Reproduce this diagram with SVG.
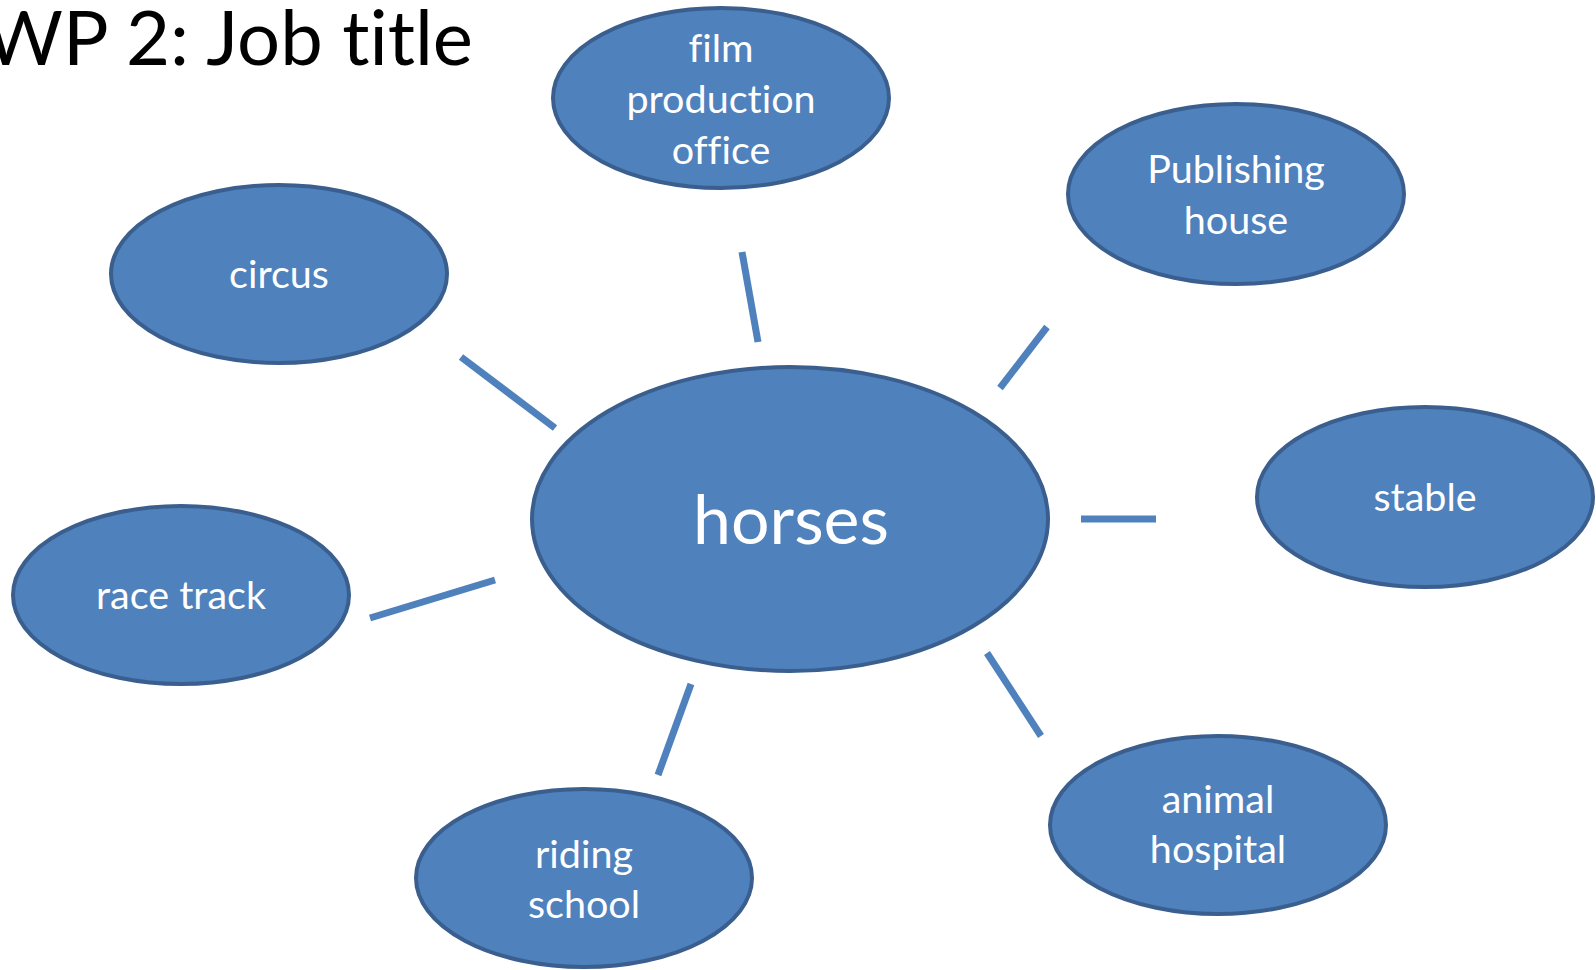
<svg xmlns="http://www.w3.org/2000/svg" width="1596" height="970" viewBox="0 0 1596 970">
<style>
text{font-variant-ligatures:none;font-feature-settings:"liga" 0,"clig" 0}
.node ellipse{fill:#4F81BD;stroke:#3A5F8F;stroke-width:4}
.node text{fill:#FFFFFF;font-family:Lato,"Open Sans","Liberation Sans",sans-serif;font-size:39.5px;text-anchor:middle}
#connectors line{stroke:#4F81BD;stroke-width:7}
.title{font-family:Lato,"Open Sans","Liberation Sans",sans-serif;font-size:76px;fill:#000000;text-anchor:end}
</style>
<rect width="1596" height="970" fill="#FFFFFF"/>
<text class="title" x="473" y="65">WP 2: Job title</text>
<g id="connectors">
<line x1="742" y1="252" x2="758" y2="342"/>
<line x1="1047" y1="327" x2="1000" y2="388"/>
<line x1="1081" y1="519" x2="1156" y2="519"/>
<line x1="987" y1="653" x2="1041" y2="736"/>
<line x1="691" y1="684" x2="658" y2="775"/>
<line x1="370" y1="618" x2="495" y2="580"/>
<line x1="461" y1="357" x2="555" y2="428"/>
</g>
<g id="node-horses" class="node">
<ellipse cx="790" cy="519" rx="258" ry="152"/>
<text x="791" y="544" style="font-size:68px">horses</text>
</g>
<g id="node-film" class="node">
<ellipse cx="721" cy="98" rx="168" ry="90"/>
<text x="721" y="62">film</text>
<text x="721" y="113">production</text>
<text x="721" y="164">office</text>
</g>
<g id="node-publishing" class="node">
<ellipse cx="1236" cy="194" rx="168" ry="90"/>
<text x="1236" y="183">Publishing</text>
<text x="1236" y="234">house</text>
</g>
<g id="node-circus" class="node">
<ellipse cx="279" cy="274" rx="168" ry="89"/>
<text x="279" y="288">circus</text>
</g>
<g id="node-stable" class="node">
<ellipse cx="1425" cy="497" rx="168" ry="90"/>
<text x="1425" y="511">stable</text>
</g>
<g id="node-racetrack" class="node">
<ellipse cx="181" cy="595" rx="168" ry="89"/>
<text x="181" y="609">race track</text>
</g>
<g id="node-riding" class="node">
<ellipse cx="584" cy="878" rx="168" ry="89"/>
<text x="584" y="868">riding</text>
<text x="584" y="918">school</text>
</g>
<g id="node-animal" class="node">
<ellipse cx="1218" cy="825" rx="168" ry="89"/>
<text x="1218" y="813">animal</text>
<text x="1218" y="863">hospital</text>
</g>
</svg>
